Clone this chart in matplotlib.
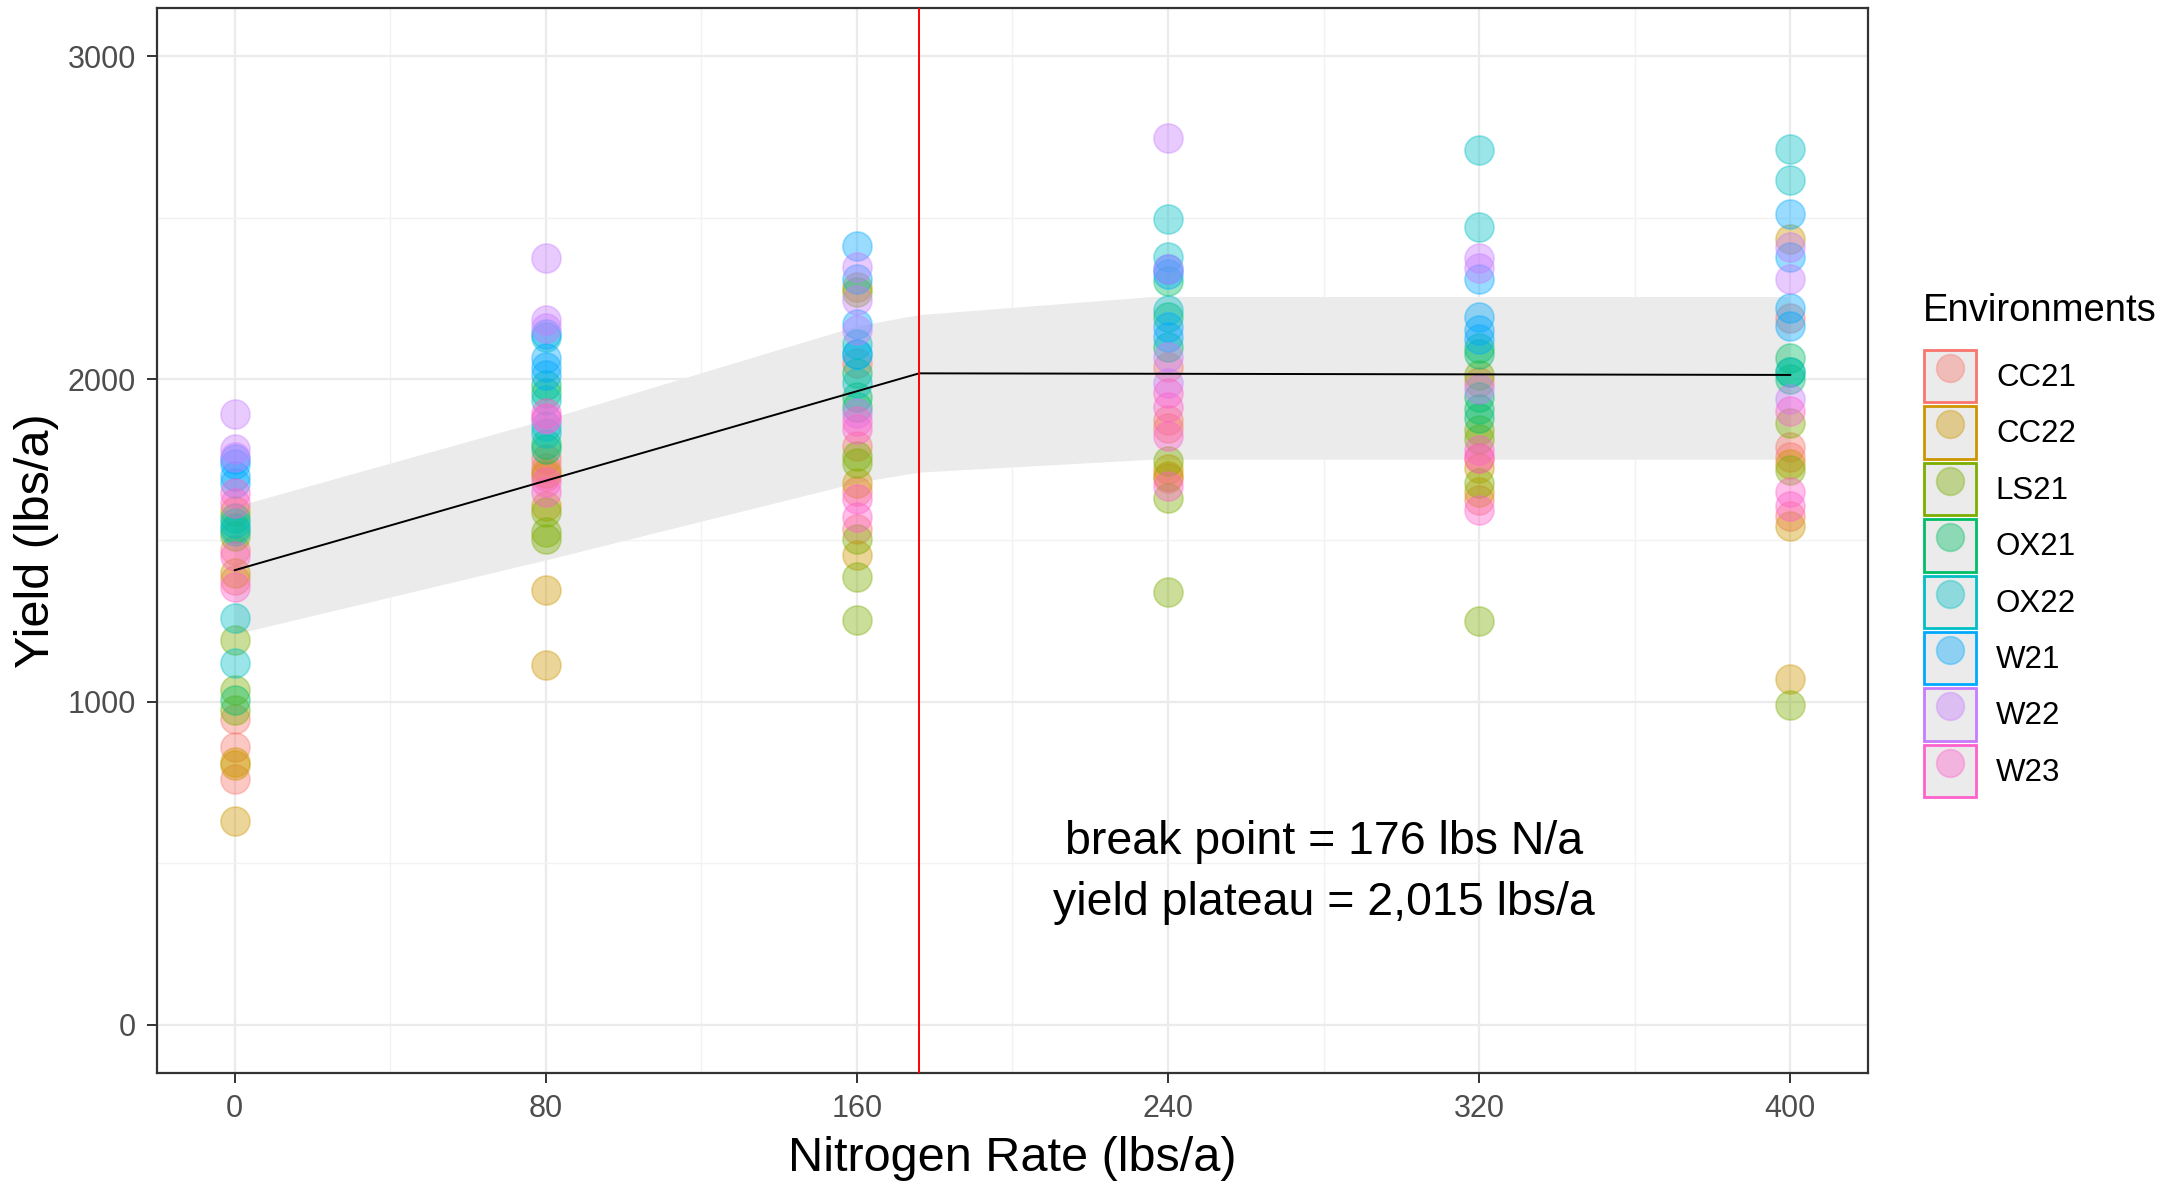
import numpy as np
import matplotlib.pyplot as plt
from matplotlib.patches import Rectangle
from matplotlib.lines import Line2D
from matplotlib.colors import to_rgba

plt.rcParams['font.family'] = ['Liberation Sans', 'DejaVu Sans']

# nitrogen rates (lbs/a) and environments
rates = [0, 80, 160, 240, 320, 400]
envs = ['CC21', 'CC22', 'LS21', 'OX21', 'OX22', 'W21', 'W22', 'W23']
env_colors = ['#F8766D', '#CD9600', '#7CAE00', '#00BE67',
              '#00BFC4', '#00A9FF', '#C77CFF', '#FF61CC']

# yields (lbs/a), one list per rate
cc21 = [[1471, 1378, 948, 860, 762], [1752, 1726, 1700], [2049, 1792, 1654, 1536],
        [2038, 1874, 1849, 1695], [1991, 1757, 1624], [2188, 1791, 1760, 1577]]
cc22 = [[1591, 1399, 813, 803, 632], [1710, 1608, 1346, 1115], [2285, 1679, 1454],
        [1721, 1700], [1726, 1651], [2433, 1736, 1546, 1070]]
ls21 = [[1513, 1192, 1036, 974], [1587, 1526, 1505], [2269, 1762, 1741, 1505, 1387, 1254],
        [1746, 1633, 1341], [2013, 1843, 1816, 1678, 1252], [1864, 1717, 990]]
ox21 = [[1570, 1540, 1005], [1983, 1957, 1800, 1782], [2018, 1946, 1915],
        [2305, 2192, 2100], [2098, 2077, 1944, 1906, 1880], [2066, 2023, 1999]]
ox22 = [[1554, 1528, 1259, 1119], [2131, 1936, 1854, 1834], [2110, 2079, 1987],
        [2495, 2377, 2213], [2710, 2470], [2714, 2616, 2023]]
w21 = [[1751, 1736, 1699, 1679], [2140, 2065, 2039, 2013], [2413, 2310, 2172, 2079],
       [2341, 2326, 2162, 2131], [2311, 2194, 2151, 2124], [2512, 2378, 2219, 2164]]
w22 = [[1891, 1782, 1760], [2376, 2183, 2157, 1875], [2346, 2244, 2151, 1895],
       [2746, 2341, 2069, 1987], [2374, 2343, 1970], [2408, 2311, 1938]]
w23 = [[1648, 1617, 1451, 1357], [1895, 1880, 1680, 1649], [1869, 1844, 1628, 1572],
       [1956, 1915, 1823, 1669], [1779, 1757, 1593], [1901, 1650, 1608]]
env_yields = [cc21, cc22, ls21, ox21, ox22, w21, w22, w23]

# linear-plateau fit and its band
fit_x = [0, 176, 400]
fit_y = [1408, 2018, 2013]
band_x = [0, 80, 160, 176, 236, 400]
band_lo = [1210, 1440, 1680, 1712, 1752, 1752]
band_hi = [1605, 1875, 2165, 2200, 2256, 2256]
break_point = 176

fig = plt.figure(figsize=(21.77, 11.84), dpi=100)
ax = fig.add_axes([157/2177, 1 - 1073/1184, (1868-157)/2177, (1073-8)/1184])

ax.fill_between(band_x, band_lo, band_hi, color='#EBEBEB', lw=0, zorder=1)

for name, col, ylist in zip(envs, env_colors, env_yields):
    xs = []
    ys = []
    for r, vals in zip(rates, ylist):
        xs += [r] * len(vals)
        ys += vals
    ax.scatter(xs, ys, s=440, color=to_rgba(col, 0.4),
               edgecolors=to_rgba(col, 0.35), linewidths=1.2, zorder=3)

ax.plot(fit_x, fit_y, color='black', lw=1.4, zorder=4)
ax.axvline(break_point, color='red', lw=1.4, zorder=4)

ax.text(280, 470, 'break point = 176 lbs N/a\nyield plateau = 2,015 lbs/a',
        ha='center', va='center', fontsize=33.5, linespacing=1.5,
        color='black', zorder=5)

ax.set_xlim(-20, 420)
ax.set_ylim(-150, 3150)
ax.set_xticks(rates)
ax.set_xticks([40, 120, 200, 280, 360], minor=True)
ax.set_yticks([0, 1000, 2000, 3000])
ax.set_yticks([500, 1500, 2500], minor=True)
ax.grid(True, which='major', color='#EBEBEB', lw=1.6, zorder=0)
ax.grid(True, which='minor', color='#F2F2F2', lw=1.0, zorder=0)
ax.set_axisbelow(True)
ax.tick_params(which='major', length=7, width=1.4, color='#333333',
               labelsize=22, labelcolor='#4D4D4D', pad=8)
ax.tick_params(which='minor', length=0)
for sp in ax.spines.values():
    sp.set_color('#333333')
    sp.set_linewidth(1.6)

ax.set_xlabel('Nitrogen Rate (lbs/a)', fontsize=35, labelpad=9)
ax.set_ylabel('Yield (lbs/a)', fontsize=35, labelpad=6)

handles = []
for col in env_colors:
    box = Rectangle((0, 0), 1, 1, facecolor='#EBEBEB', edgecolor=col, lw=2)
    dot = Line2D([], [], marker='o', ls='', ms=20,
                 mfc=to_rgba(col, 0.4), mec=to_rgba(col, 0.35), mew=1.2)
    handles.append((box, dot))

fig.text(1923/2177, 1 - 311/1184, 'Environments', fontsize=27.5,
         ha='left', va='center')
leg = fig.legend(handles, envs, loc='upper left',
                 bbox_to_anchor=(1924/2177, 1 - 350/1184),
                 frameon=False, fontsize=22.5,
                 handlelength=1.65, handleheight=2.2, labelspacing=0.13,
                 handletextpad=0.65, borderpad=0, borderaxespad=0)

fig.savefig('out.png', dpi=100)
